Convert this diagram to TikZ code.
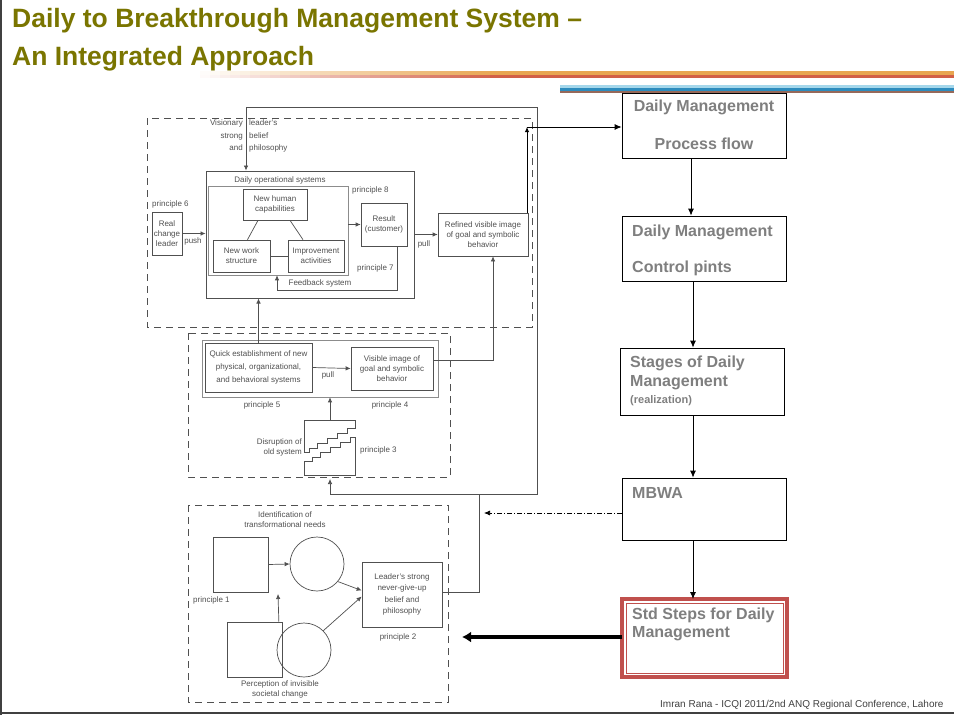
\documentclass[tikz,border=0pt]{standalone}
\usepackage{fontspec}
\setmainfont{Liberation Sans}
\usetikzlibrary{arrows.meta,calc,positioning}

\definecolor{titleolive}{RGB}{122,117,0}
\definecolor{flowgray}{RGB}{127,127,127}
\definecolor{stdred}{RGB}{192,80,77}
\definecolor{figink}{RGB}{80,80,80}
\definecolor{figlight}{RGB}{140,140,140}
\definecolor{barorange}{RGB}{232,165,80}
\definecolor{barred}{RGB}{210,95,70}
\definecolor{barcyan}{RGB}{165,215,235}
\definecolor{barblue}{RGB}{45,140,190}
\definecolor{barbrown}{RGB}{150,105,90}

\begin{document}
\begin{tikzpicture}[x=1pt, y=-1pt,
  flowbox/.style={draw, line width=0.8pt, minimum width=164pt, inner sep=0pt},
  flowtxt/.style={font=\fontsize{16}{19}\selectfont\bfseries, text=flowgray, inner sep=0pt},
  arr/.style={-{Latex[length=7pt,width=6pt]}, line width=0.8pt},
  fig/.style={draw=figink, line width=0.7pt},
  figbox/.style={fig, inner sep=1pt, align=center, font=\fontsize{8}{10}\selectfont, text=figink},
  figtxt/.style={font=\fontsize{8}{10}\selectfont, text=figink, inner sep=0pt, align=center},
  figarr/.style={-{Latex[length=5pt,width=4.5pt]}, draw=figink, line width=0.7pt},
  zone/.style={draw=figink, line width=0.7pt, dash pattern=on 7pt off 5pt}
]
\useasboundingbox (0,0) rectangle (954,715);
\fill[white] (0,0) rectangle (954,715);

% slide frame and heading
\draw[black!75, line width=2.5pt] (1,0) -- (1,715);
\draw[black!75, line width=2pt] (0,713) -- (954,713);
\node[anchor=base west, font=\fontsize{26.5}{30}\selectfont\bfseries, text=titleolive, inner sep=0pt] (title1) at (12,27) {Daily to Breakthrough Management System –};
\node[anchor=base west, font=\fontsize{26.5}{30}\selectfont\bfseries, text=titleolive, inner sep=0pt] (title2) at (12,65) {An Integrated Approach};
% fading rule under the heading
\foreach \i in {0,...,30}{
  \pgfmathtruncatemacro{\pct}{\i*100/30}
  \fill[barorange!\pct!white] (190+10*\i,71) rectangle (201+10*\i,74.5);
  \fill[barred!\pct!white] (190+10*\i,74.5) rectangle (201+10*\i,78);
}
\fill[barorange] (490,71) rectangle (954,74.5);
\fill[barred] (490,74.5) rectangle (954,78);
\fill[barcyan] (560,85) rectangle (954,87.5);
\fill[barblue] (560,87.5) rectangle (954,90.5);
\fill[barbrown] (560,90.5) rectangle (954,92.5);

% left figure, upper part
\draw[zone] (147,118) rectangle (532,327);
\node[figtxt, font=\fontsize{8}{12.5}\selectfont, anchor=north east, align=right] (visl) at (243,120) {Visionary\\strong\\and};
\node[figtxt, font=\fontsize{8}{12.5}\selectfont, anchor=north west, align=left] (visr) at (249,120) {leader's\\belief\\philosophy};
\node[figbox, line width=1pt, minimum width=208pt, minimum height=127pt] (dos) at (310,234.5) {};
\node[figtxt] (dostitle) at (280,180) {Daily operational systems};
\node[draw=figlight, line width=0.6pt, minimum width=140pt, minimum height=89pt, inner sep=0pt] (inner) at (278,230.5) {};
\node[figbox, minimum width=64pt, minimum height=31pt] (nhc) at (275,204.5) {New human\\capabilities};
\node[figbox, minimum width=57pt, minimum height=32pt] (nws) at (241.5,256) {New work\\structure};
\node[figbox, minimum width=56pt, minimum height=32pt] (impr) at (316,256) {Improvement\\activities};
\node[figbox, minimum width=46pt, minimum height=43pt] (result) at (384,224.5) {Result\\(customer)};
\node[figtxt, anchor=west] (p8) at (352,190) {principle 8};
\node[figtxt, anchor=west] (p7) at (357,268) {principle 7};
\node[figtxt] (fbl) at (320,283) {Feedback system};
\node[figbox, minimum width=30pt, minimum height=43pt] (rcl) at (167,233.5) {Real\\change\\leader};
\node[figtxt, anchor=west] (p6) at (152,204) {principle 6};
\node[figtxt] (pushl) at (193,241) {push};
\node[figbox, minimum width=90pt, minimum height=43pt] (refined) at (483,234.5) {Refined visible image\\of goal and symbolic\\behavior};
\node[figtxt] (pulla) at (424,244) {pull};

\draw[fig] ($(nhc.south)+(-17,0)$) -- ($(nws.north)+(6,0)$);
\draw[fig] ($(nhc.south)+(15,0)$) -- ($(impr.north)+(-13,0)$);
\draw[fig] (nws.east) -- (impr.west);
\draw[figarr] (inner.east |- result.west) -- (result.west);
\draw[figarr] ($(result.south)+(13,0)$) |- ($(inner.south)+(-1,15)$) -- ($(inner.south)+(-1,0)$);
\draw[figarr] (rcl.east) -- (rcl.east -| dos.west);
\draw[figarr] (dos.east |- refined.west) -- (refined.west);

% left figure, middle part
\draw[zone] (188,333) rectangle (450,477);
\node[draw=figlight, line width=0.6pt, minimum width=236pt, minimum height=57pt, inner sep=0pt] (midframe) at (320,368.5) {};
\node[figbox, font=\fontsize{8}{13}\selectfont, minimum width=107pt, minimum height=49pt] (quick) at (258.5,367.5) {Quick establishment of new\\physical, organizational,\\and behavioral systems};
\node[figbox, minimum width=82pt, minimum height=43pt] (visimg) at (392,368.5) {Visible image of\\goal and symbolic\\behavior};
\node[figtxt] (pullb) at (328,375) {pull};
\draw[figarr] (quick.east) -- (visimg.west);
\node[figtxt] (p5) at (262,405) {principle 5};
\node[figtxt] (p4) at (390,405) {principle 4};
\draw[fig] (304,452) -- (304,420) -- (355,420) -- (355,428) -- (347,428) -- (347,433) -- (337,433) -- (337,438) -- (327,438) -- (327,443) -- (317,443) -- (317,448) -- (309,448) -- (309,452) -- cycle;
\draw[fig] (304,461) -- (304,475) -- (355,475) -- (355,437) -- (350,437) -- (350,442) -- (340,442) -- (340,447) -- (330,447) -- (330,452) -- (320,452) -- (320,457) -- (312,457) -- (312,461) -- cycle;
\coordinate (disrtop) at (330,420);
\coordinate (disrfoot) at (330,479);
\node[figtxt, anchor=east, align=right] (disl) at (302,447) {Disruption of\\old system};
\node[figtxt, anchor=west] (p3) at (360,450) {principle 3};
\draw[figarr] (disrtop) -- (disrtop |- midframe.south);
\draw[figarr] (quick.north) -- (quick.north |- dos.south);
\draw[figarr] ([yshift=8pt]visimg.east) -| ($(refined.south)+(10,0)$);

\coordinate (joint) at (527,127);
\draw[figarr, draw=black, line width=0.9pt] ($(refined.north)+(44,0)$) -- (joint);

% left figure, lower part
\draw[zone] (188,505) rectangle (448,702);
\node[figtxt] (idl) at (285,520) {Identification of\\transformational needs};
\node[fig, minimum size=55pt, inner sep=0pt] (sq1) at (240.5,564.5) {};
\node[fig, circle, minimum size=54pt, inner sep=0pt] (c1) at (317,564) {};
\node[fig, minimum size=55pt, inner sep=0pt] (sq2) at (255,649.5) {};
\node[fig, circle, minimum size=54pt, inner sep=0pt] (c2) at (304,650) {};
\coordinate (needtip) at (278,594);
\draw[figarr] (sq1.east) -- (c1.west);
\draw[figarr] ($(sq2.north east)+(-4,0)$) -- (needtip);
\node[figtxt, anchor=west] (p1) at (193,600) {principle 1};
\node[figbox, font=\fontsize{8}{11.5}\selectfont, minimum width=80pt, minimum height=65pt] (leader) at (402,594.5) {Leader's strong\\never-give-up\\belief and\\philosophy};
\draw[figarr] (c1.-40) -- ([yshift=4pt]leader.west);
\draw[figarr] (c2.45) -- ([yshift=-2pt]leader.west);
\node[figtxt] (p2) at (398,637) {principle 2};
\node[figtxt] (percl) at (280,689) {Perception of invisible\\societal change};

\coordinate (split) at (479,494);
\coordinate (topturn) at (537,107);
\draw[fig] ([yshift=2pt]leader.east) -| (split);
\draw[figarr] (split) -| (disrfoot);
\draw[figarr] (split) -| (topturn) -| ($(dos.north)+(-64,0)$);

% right column
\node[flowbox, minimum height=65pt] (pflow) at (704,125.5) {};
\node[flowtxt] (pflow1) at (704,107) {Daily Management};
\node[flowtxt] (pflow2) at (704,144) {Process flow};
\node[flowbox, minimum height=65pt] (ctrl) at (704,248.5) {};
\node[flowtxt, anchor=west] (ctrl1) at (632,232) {Daily Management};
\node[flowtxt, anchor=west] (ctrl2) at (632,268) {Control pints};
\node[flowbox, minimum height=67pt] (stages) at (702,381.5) {};
\node[flowtxt, anchor=west] (stages1) at (630,363) {Stages of Daily};
\node[flowtxt, anchor=west] (stages2) at (630,383) {Management};
\node[flowtxt, anchor=west, font=\fontsize{11}{13}\selectfont\bfseries] (stages3) at (630,401) {(realization)};
\node[flowbox, minimum height=62pt] (mbwa) at (704,509) {};
\node[flowtxt, anchor=west] (mbwa1) at (632,493) {MBWA};
\node[draw=stdred, line width=4pt, outer sep=0pt, minimum width=165pt, minimum height=78pt, inner sep=0pt] (std) at (704.5,638) {};
\draw[stdred, line width=0.8pt] ($(std.north west)+(4,4)$) rectangle ($(std.south east)+(-4,-4)$);
\node[flowtxt, anchor=west] (std1) at (632,615) {Std Steps for Daily};
\node[flowtxt, anchor=west] (std2) at (632,634) {Management};

\draw[arr] (joint) -- (joint -| pflow.west);
\draw[arr] ([xshift=-13pt]pflow.south) -- ([xshift=-13pt]ctrl.north);
\draw[arr] ([xshift=-11pt]ctrl.south) -- ([xshift=-9pt]stages.north);
\draw[arr] ([xshift=-9pt]stages.south) -- ([xshift=-11pt]mbwa.north);
\draw[arr] ([xshift=-11pt]mbwa.south) -- ([xshift=-11.5pt]std.north);
\coordinate (mbwatip) at (484,513);
\draw[-{Latex[length=6pt,width=5pt]}, line width=0.7pt, dash pattern=on 5pt off 2pt on 1pt off 2pt] (mbwa.west |- mbwatip) -- (mbwatip);
\coordinate (stdtip) at (462,637);
\draw[-{Latex[length=9pt,width=11pt]}, line width=3.5pt] (std.west |- stdtip) -- (stdtip);

% footer
\node[anchor=west, font=\fontsize{10}{12}\selectfont, text=black!75, inner sep=0pt] (footer) at (660,705) {Imran Rana - ICQI 2011/2nd ANQ Regional Conference, Lahore};
\end{tikzpicture}
\end{document}
